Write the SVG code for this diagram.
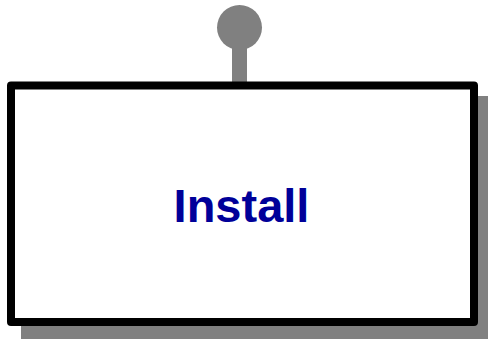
<svg xmlns="http://www.w3.org/2000/svg" width="488" height="339" viewBox="0 0 488 339">
<style>
.shadow{fill:#808080}
.box{fill:#ffffff;stroke:#000000;stroke-width:8;stroke-linejoin:round}
.label{font-family:"Liberation Sans",Arial,sans-serif;font-weight:bold;font-size:47px;fill:#000099;text-anchor:middle}
.pin{fill:#808080}
</style>
<g id="connectors">
<rect class="pin" x="232" y="40" width="15" height="44"/>
<circle class="pin" cx="239.5" cy="27.5" r="22.5"/>
</g>
<g id="install">
<rect class="shadow" x="21" y="96" width="470" height="246"/>
<rect class="box" x="11" y="85.5" width="463" height="236.5"/>
<text class="label" x="241.5" y="222">Install</text>
</g>
</svg>
